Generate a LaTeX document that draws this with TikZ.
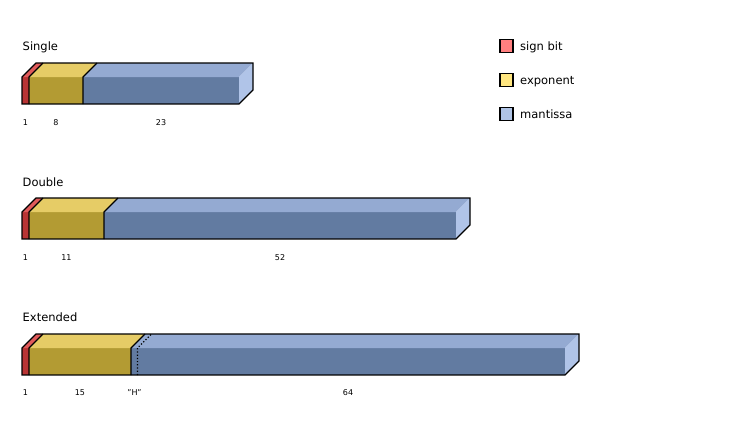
\documentclass[tikz,border=0pt]{standalone}
\usepackage{fontspec}
\setmainfont{DejaVu Sans}
\definecolor{redfront}{HTML}{B83434}
\definecolor{redtop}{HTML}{E05A5A}
\definecolor{yelfront}{HTML}{B39B33}
\definecolor{yeltop}{HTML}{E6CC66}
\definecolor{bluefront}{HTML}{627BA1}
\definecolor{bluetop}{HTML}{94AAD2}
\definecolor{blueside}{HTML}{B0C4E8}
\definecolor{legred}{HTML}{FF7F7F}
\definecolor{legyel}{HTML}{FFE680}
\definecolor{legblue}{HTML}{B0C4E6}
\tikzset{
  outline/.style={draw=black,line width=1.1pt,line join=miter},
  title/.style={anchor=base west,inner sep=0pt,font=\fontsize{11.5}{13}\selectfont},
  bits/.style={anchor=base,inner sep=0pt,font=\fontsize{8}{9}\selectfont},
  legbox/.style={draw=black,line width=1.1pt,minimum width=13pt,minimum height=13pt,inner sep=0pt},
  legtext/.style={anchor=base west,inner sep=0pt,font=\fontsize{11.5}{13}\selectfont}
}
\newcommand{\fpslab}[5]{% x0 x1 top color-front color-top
  \fill[#4] (#1,#3) rectangle (#2,#3+27);
  \fill[#5] (#1,#3) -- (#1+14,#3-14) -- (#2+14,#3-14) -- (#2,#3) -- cycle;
}
\newcommand{\fpfloat}[3]{%
  \fpslab{22}{29}{#1}{redfront}{redtop}
  \fpslab{29}{#2}{#1}{yelfront}{yeltop}
  \fpslab{#2}{#3}{#1}{bluefront}{bluetop}
  \fill[blueside] (#3,#1) -- (#3+14,#1-14) -- (#3+14,#1+13) -- (#3,#1+27) -- cycle;
  \draw[outline] (22,#1+27) -- (22,#1) -- (36,#1-14) -- (#3+14,#1-14) -- (#3+14,#1+13) -- (#3,#1+27) -- cycle;
  \draw[outline] (29,#1+27) -- (29,#1) -- (43,#1-14);
  \draw[outline] (#2,#1+27) -- (#2,#1) -- (#2+14,#1-14);
}
\begin{document}
\begin{tikzpicture}[x=1pt,y=-1pt]
\useasboundingbox (0,0) rectangle (751,421);
% Single
\node[title] (t1) at (22.5,50) {Single};
\fpfloat{77}{83}{239}
\node[bits] (s1) at (25.5,125) {1};
\node[bits] (s2) at (56,125) {8};
\node[bits] (s3) at (161,125) {23};
% Double
\node[title] (t2) at (22.5,186) {Double};
\fpfloat{212}{104}{456}
\node[bits] (d1) at (25.5,260) {1};
\node[bits] (d2) at (66.5,260) {11};
\node[bits] (d3) at (280,260) {52};
% Extended
\node[title] (t3) at (22.5,321) {Extended};
\fpfloat{348}{131}{565}
\draw[line width=1.1pt,dash pattern=on 1.2pt off 2pt] (137.5,375) -- (137.5,348) -- (151.5,334);
\node[bits] (e1) at (25.5,395) {1};
\node[bits] (e2) at (80,395) {15};
\node[bits] (e3) at (134.5,395) {"H"};
\node[bits] (e4) at (348,395) {64};
% Legend
\node[legbox,fill=legred] (l1) at (506.5,46) {};
\node[legtext] (lt1) at (520,50) {sign bit};
\node[legbox,fill=legyel] (l2) at (506.5,80) {};
\node[legtext] (lt2) at (520,84) {exponent};
\node[legbox,fill=legblue] (l3) at (506.5,114) {};
\node[legtext] (lt3) at (520,118) {mantissa};
\end{tikzpicture}
\end{document}
